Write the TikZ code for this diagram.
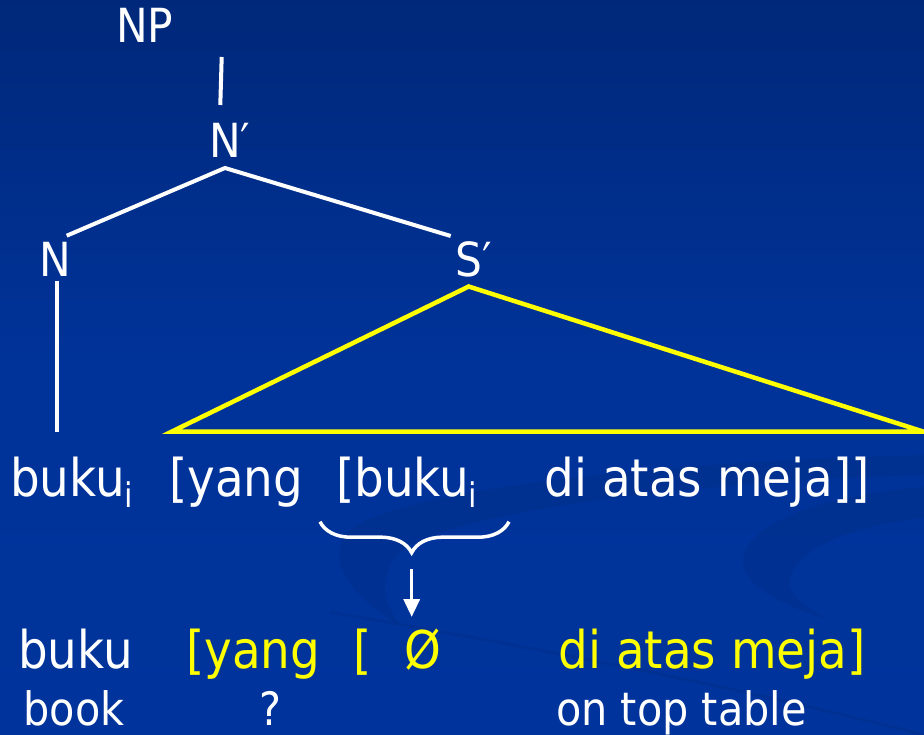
\documentclass[tikz,border=0pt]{standalone}
\usepackage{fontspec}
\IfFontExistsTF{DejaVu Sans Condensed}
  {\setmainfont{DejaVu Sans Condensed}}
  {\setmainfont{DejaVu Sans}[FakeStretch=0.9]}
\usetikzlibrary{arrows.meta,decorations.pathreplacing}
\definecolor{navytop}{RGB}{0,40,122}
\definecolor{navybot}{RGB}{0,52,156}
\definecolor{hl}{RGB}{255,255,0}
\newcommand\subi{{\fontsize{34}{34}\selectfont\raisebox{-11pt}{i}}}
\begin{document}
\begin{tikzpicture}[x=1pt,y=-1pt,
  lbl/.style={text=white,inner sep=0pt,anchor=base west,font=\fontsize{47}{47}\selectfont},
  wd/.style={inner sep=0pt,anchor=base west,font=\fontsize{52}{52}\selectfont},
  gl/.style={text=white,inner sep=0pt,anchor=base west,font=\fontsize{46}{46}\selectfont},
  branch/.style={white,line width=4pt},
  tri/.style={hl,line width=4.5pt,line join=miter},
]
% background
\useasboundingbox (0,0) rectangle (924,735);
\fill[top color=navytop,bottom color=navybot,middle color=navybot!92!navytop] (0,0) rectangle (924,735);
\begin{scope}
\clip (0,0) rectangle (924,735);
% faint swooshes in the lower right
\fill[black,opacity=0.06] (924,455) .. controls (650,462) and (400,490) .. (350,530)
  .. controls (325,555) and (345,595) .. (400,625)
  .. controls (380,600) and (375,560) .. (420,540)
  .. controls (520,500) and (750,480) .. (924,475) -- cycle;
\fill[black,opacity=0.06] (924,487) .. controls (820,495) and (745,525) .. (743,560)
  .. controls (742,585) and (780,605) .. (830,620)
  .. controls (800,605) and (785,590) .. (790,578)
  .. controls (800,545) and (860,525) .. (924,518) -- cycle;
\draw[black,opacity=0.06,line width=3pt] (330,612) .. controls (550,650) and (750,690) .. (924,735);
\end{scope}

% tree labels
\node[lbl] (np) at (116,43) {NP};
\node[lbl] (nbar) at (209,158) {N′};
\node[lbl] (n) at (39,277) {N};
\node[lbl] (sbar) at (455.5,277) {S′};

% branch end points
\coordinate (np-b) at (221.7,57);
\coordinate (nbar-t) at (220.3,105);
\coordinate (nbar-b) at (225,168);
\coordinate (n-t) at (66.7,235.7);
\coordinate (sbar-t) at (450.7,236);
\coordinate (n-b) at (57.3,280.7);
\coordinate (leaf-t) at (57.3,431.7);
\coordinate (tri-apex) at (468.7,286.5);
\coordinate (tri-l) at (172,431.5);
\coordinate (tri-r) at (923,431.5);

\draw[branch] (np-b) -- (nbar-t);
\draw[branch] (n-t) -- (nbar-b) -- (sbar-t);
\draw[branch] (n-b) -- (leaf-t);
\draw[tri] (tri-apex) -- (tri-l) -- (tri-r) -- cycle;

% first line of words
\node[wd,text=white] (w1) at (10,496) {buku\subi};
\node[wd,text=white] (w2) at (169,496) {[yang};
\node[wd,text=white] (w3) at (336,496) {[buku\subi};
\node[wd,text=white] (w4) at (544.5,496) {di atas meja]]};

% brace and arrow
\coordinate (br-l) at (320,521.7);
\coordinate (br-r) at (509,521.7);
\draw[white,line width=3.5pt,decorate,decoration={brace,mirror,amplitude=31pt,aspect=0.485}] (br-l) -- (br-r);
\coordinate (arr-s) at (411.7,569);
\coordinate (arr-e) at (411.7,617);
\draw[white,line width=3.5pt,-{Triangle[width=16pt,length=18pt]}] (arr-s) -- (arr-e);

% second line of words
\node[wd,text=white] (v1) at (18,668) {buku};
\node[wd,text=hl] (v2) at (186,668) {[yang};
\node[wd,text=hl] (v3) at (353,668) {[};
\node[wd,text=hl] (v4) at (404.5,668) {Ø};
\node[wd,text=hl] (v5) at (558.5,668) {di atas meja]};

% glosses
\node[gl] (g1) at (23.5,725) {book};
\node[gl] (g2) at (259,725) {?};
\node[gl] (g3) at (556,725) {on top table};
\end{tikzpicture}
\end{document}
